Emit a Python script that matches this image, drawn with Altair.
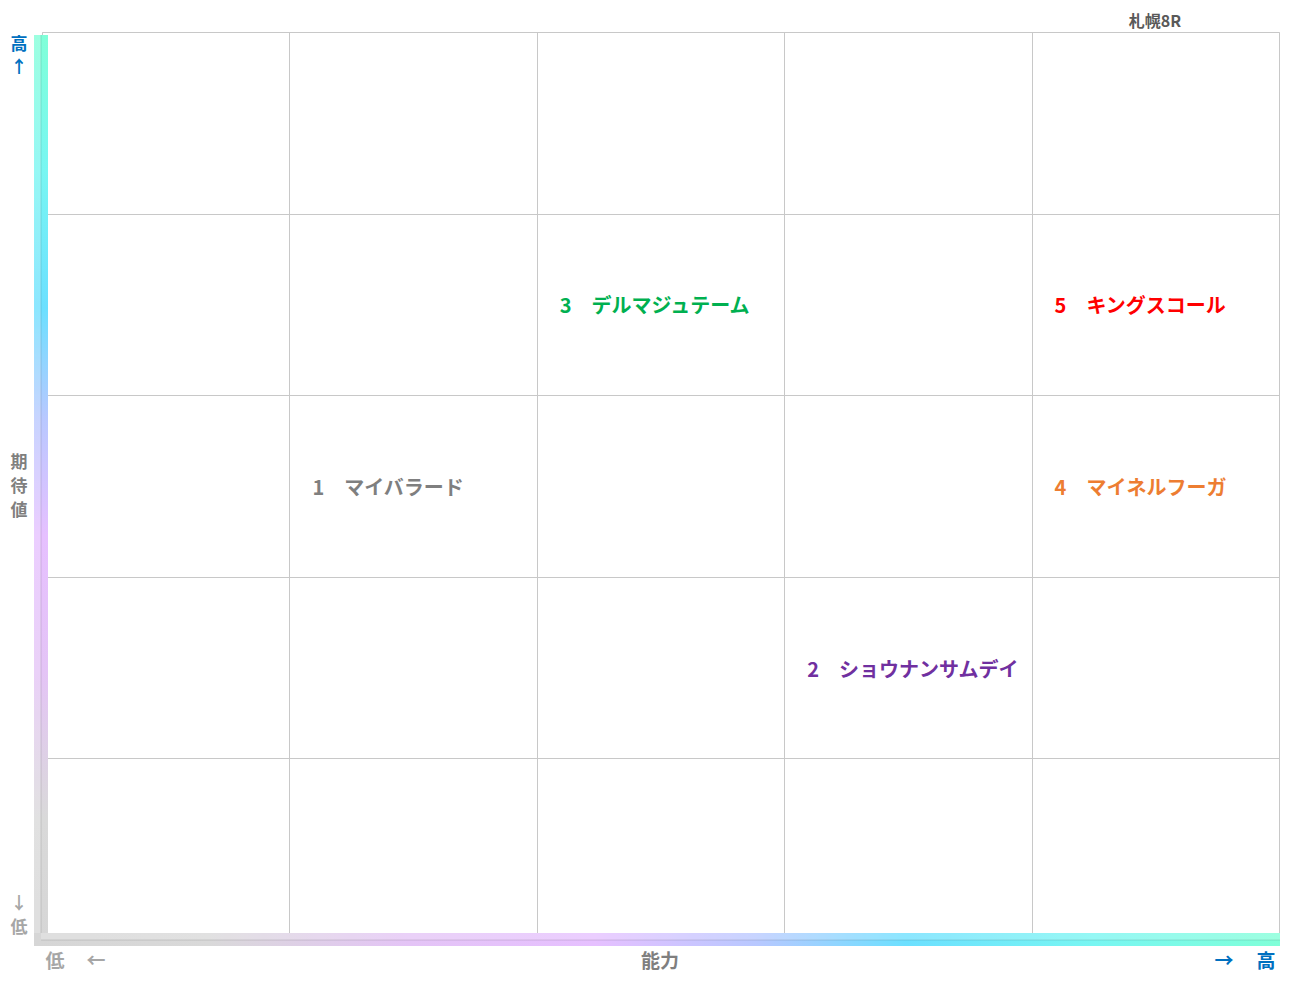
import altair as alt
import pandas as pd

# ---- data ----
numbers = [1, 2, 3, 4, 5]
names = ["マイバラード", "ショウナンサムデイ", "デルマジュテーム", "マイネルフーガ", "キングスコール"]
ability = [1, 3, 2, 4, 4]        # cell index (0 = lowest, left)
expectation = [2, 1, 3, 2, 3]    # cell index (0 = lowest, bottom)
colors = ["#7F7F7F", "#7030A0", "#00B050", "#ED7D31", "#FF0000"]
grid_ticks = [0, 1, 2, 3, 4, 5]
race_title = "札幌8R"

df = pd.DataFrame({
    "num": numbers,
    "name": names,
    "ability": ability,
    "expectation": expectation,
})
df["label"] = [f"{n}\u3000{s}" for n, s in zip(numbers, names)]

FONT = "Noto Sans CJK JP"
W, H = 1237, 908

xscale = alt.Scale(domain=[0, 5], nice=False, zero=False)
yscale = alt.Scale(domain=[0, 5], nice=False, zero=False)
axis_common = dict(values=grid_ticks, labels=False, ticks=False, domain=False,
                   title=None, grid=True, gridColor="#C8C8C8", gridWidth=1)

labels = alt.Chart(df).transform_calculate(
    ymid="datum.expectation + 0.5"
).mark_text(
    align="left", baseline="middle", dx=23, dy=3, font=FONT, fontSize=20, fontWeight="bold"
).encode(
    x=alt.X("ability:Q", scale=xscale, axis=alt.Axis(**axis_common)),
    y=alt.Y("ymid:Q", scale=yscale, axis=alt.Axis(**axis_common)),
    text="label:N",
    color=alt.Color("name:N", scale=alt.Scale(domain=names, range=colors), legend=None),
)

# ---- decorative gradient axis bars ----
v_stops = [
    ("#80FFD8", 0.0), ("#78F6F2", 0.15), ("#6CE0FF", 0.3), ("#B8C8FF", 0.42),
    ("#E6C0FF", 0.55), ("#E4C4F6", 0.7), ("#D9D9D9", 0.86), ("#D6D6D6", 1.0),
]
h_stops = [(c, round(1 - o, 3)) for c, o in reversed(v_stops)]

def grad(stops, vertical):
    return alt.Gradient(
        gradient="linear",
        stops=[alt.GradientStop(color=c, offset=o) for c, o in stops],
        x1=0, y1=0, x2=0 if vertical else 1, y2=1 if vertical else 0,
    )

one = pd.DataFrame({"a": [0]})

vbar = alt.Chart(one).mark_rect(color=grad(v_stops, True)).encode(
    x=alt.value(-8), x2=alt.value(6), y=alt.value(3), y2=alt.value(914))
vbar_hi = alt.Chart(one).mark_rect(color="white", opacity=0.22).encode(
    x=alt.value(-8), x2=alt.value(-1), y=alt.value(3), y2=alt.value(907))
vbar_line = alt.Chart(one).mark_rule(color="#000000", opacity=0.12, strokeWidth=1).encode(
    x=alt.value(-1), y=alt.value(3), y2=alt.value(907))

hbar = alt.Chart(one).mark_rect(color=grad(h_stops, False)).encode(
    x=alt.value(-8), x2=alt.value(1238), y=alt.value(901), y2=alt.value(914))
hbar_hi = alt.Chart(one).mark_rect(color="white", opacity=0.22).encode(
    x=alt.value(-1), x2=alt.value(1238), y=alt.value(901), y2=alt.value(908))
hbar_line = alt.Chart(one).mark_rule(color="#000000", opacity=0.12, strokeWidth=1).encode(
    x=alt.value(-1), x2=alt.value(1238), y=alt.value(908))

def txt(s, x, y, color, align="center", baseline="middle", size=19):
    return alt.Chart(one).mark_text(
        text=s, align=align, baseline=baseline, font=FONT, fontSize=size,
        fontWeight="bold", color=color,
    ).encode(x=alt.value(x), y=alt.value(y))

BLUE = "#0070C0"
GRAY = "#7F7F7F"
LGRAY = "#A6A6A6"

decor_text = [
    txt(race_title, 1113, -10, "#595959", size=16),
    txt("高", -23, 13, BLUE, size=17),
    txt("↑", -23, 36, BLUE, size=17),
    txt("期", -23, 431, GRAY, size=17),
    txt("待", -23, 455, GRAY, size=17),
    txt("値", -23, 479, GRAY, size=17),
    txt("↓", -23, 872, LGRAY, size=17),
    txt("低", -23, 896, LGRAY, size=17),
    txt("低", 13, 930, LGRAY),
    txt("←", 54, 930, LGRAY),
    txt("能力", 618, 930, GRAY),
    txt("→", 1182, 930, BLUE),
    txt("高", 1224, 930, BLUE),
]

chart = alt.layer(
    labels, vbar, vbar_hi, vbar_line, hbar, hbar_hi, hbar_line, *decor_text
).properties(
    width=W, height=H,
    autosize=alt.AutoSizeParams(type="none"),
    padding={"left": 34, "top": 24, "right": 4, "bottom": 36},
).configure_view(
    stroke="#BFBFBF", strokeWidth=1
).configure(background="white")

chart.save("out.html", embed_options={"renderer": "svg", "actions": False})
